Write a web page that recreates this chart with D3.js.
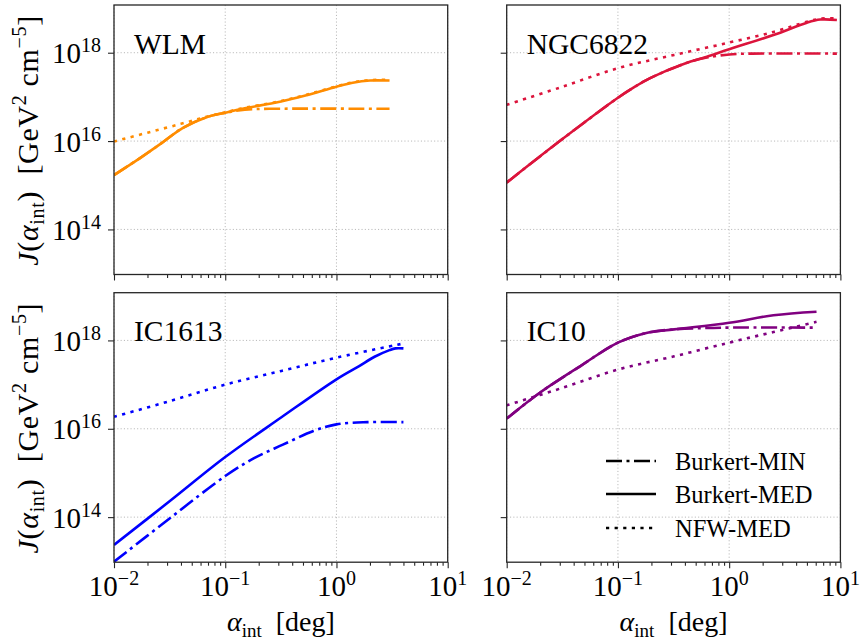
<!DOCTYPE html>
<html><head><meta charset="utf-8">
<script src="https://cdn.jsdelivr.net/npm/d3@7"></script>
<style>
body{margin:0;background:#fff}
svg{display:block}
</style>
</head><body>
<svg id="chart" width="861" height="643" font-family="'Liberation Serif', 'DejaVu Serif', serif"></svg>
<script>
// ---------- data ----------
const panelNames = ["WLM", "NGC6822", "IC1613", "IC10"];
const panelColors = ["#ff8c00", "#dc143c", "#0000ff", "#800080"];
const seriesNames = ["Burkert-MIN", "Burkert-MED", "NFW-MED"];
const xTickValues = [0.01, 0.1, 1, 10];
const xTickExponents = ["\u22122", "\u22121", "0", "1"];
const yTickValues = [1e14, 1e16, 1e18];
const yTickExponents = ["14", "16", "18"];

// WLM  (alpha in deg, log10 J in GeV^2 cm^-5)
const wlmMinAlpha = [0.01, 0.017, 0.026, 0.041, 0.068, 0.1, 0.15, 0.25, 3.0];
const wlmMinLogJ  = [15.23, 15.61, 15.93, 16.29, 16.54, 16.64, 16.71, 16.73, 16.73];
const wlmMedAlpha = [0.01, 0.017, 0.026, 0.041, 0.068, 0.1, 0.135, 0.31, 0.54, 1.0, 1.4, 2.0, 3.0];
const wlmMedLogJ  = [15.23, 15.61, 15.93, 16.29, 16.54, 16.64, 16.72, 16.89, 17.04, 17.23, 17.32, 17.37, 17.37];
const wlmNfwAlpha = [0.01, 0.02, 0.04, 0.068, 0.1, 0.135, 0.31, 0.54, 1.0, 1.4, 2.0, 3.0];
const wlmNfwLogJ  = [15.99, 16.19, 16.39, 16.55, 16.65, 16.73, 16.9, 17.05, 17.24, 17.33, 17.38, 17.39];

// NGC6822
const ngcMinAlpha = [0.01, 0.03, 0.1, 0.14, 0.18, 0.25, 0.32, 0.45, 0.63, 1.0, 1.6, 9.3];
const ngcMinLogJ  = [15.06, 16.0, 16.98, 17.22, 17.38, 17.55, 17.66, 17.8, 17.89, 17.96, 17.98, 17.98];
const ngcMedAlpha = [0.01, 0.03, 0.1, 0.14, 0.18, 0.25, 0.32, 0.45, 0.63, 1.0, 2.5, 5.0, 6.6, 9.3];
const ngcMedLogJ  = [15.06, 16.0, 16.98, 17.22, 17.38, 17.55, 17.66, 17.8, 17.91, 18.08, 18.4, 18.68, 18.75, 18.74];
const ngcNfwAlpha = [0.01, 0.03, 0.1, 0.32, 1.0, 2.5, 5.0, 6.6, 9.3];
const ngcNfwLogJ  = [16.82, 17.21, 17.65, 17.95, 18.23, 18.47, 18.7, 18.77, 18.78];

// IC1613
const ic1613MinAlpha = [0.01, 0.032, 0.1, 0.18, 0.33, 0.62, 1.0, 1.9, 4.0];
const ic1613MinLogJ  = [12.99, 13.98, 14.93, 15.33, 15.64, 15.95, 16.1, 16.15, 16.15];
const ic1613MedAlpha = [0.01, 0.032, 0.1, 0.32, 1.0, 1.6, 2.2, 3.0, 3.4, 4.0];
const ic1613MedLogJ  = [13.37, 14.37, 15.36, 16.26, 17.12, 17.42, 17.63, 17.78, 17.82, 17.82];
const ic1613NfwAlpha = [0.01, 0.032, 0.1, 0.32, 1.0, 4.0];
const ic1613NfwLogJ  = [16.27, 16.63, 17.0, 17.31, 17.61, 17.93];

// IC10
const ic10MinAlpha = [0.01, 0.02, 0.046, 0.1, 0.18, 0.32, 0.6, 1.0, 6.1];
const ic10MinLogJ  = [16.23, 16.82, 17.42, 17.95, 18.17, 18.25, 18.28, 18.29, 18.29];
const ic10MedAlpha = [0.01, 0.02, 0.046, 0.1, 0.18, 0.32, 1.0, 2.5, 6.1];
const ic10MedLogJ  = [16.23, 16.82, 17.42, 17.95, 18.17, 18.25, 18.4, 18.57, 18.65];
const ic10NfwAlpha = [0.01, 0.032, 0.1, 0.32, 1.0, 2.5, 6.1];
const ic10NfwLogJ  = [16.53, 16.93, 17.34, 17.64, 17.95, 18.19, 18.42];

// ---------- build ----------
const seriesByPanel = [
  [[wlmMinAlpha, wlmMinLogJ], [wlmMedAlpha, wlmMedLogJ], [wlmNfwAlpha, wlmNfwLogJ]],
  [[ngcMinAlpha, ngcMinLogJ], [ngcMedAlpha, ngcMedLogJ], [ngcNfwAlpha, ngcNfwLogJ]],
  [[ic1613MinAlpha, ic1613MinLogJ], [ic1613MedAlpha, ic1613MedLogJ], [ic1613NfwAlpha, ic1613NfwLogJ]],
  [[ic10MinAlpha, ic10MinLogJ], [ic10MedAlpha, ic10MedLogJ], [ic10NfwAlpha, ic10NfwLogJ]]
];
const dashes = ["16,4.5,3,4.5", null, "3.2,5.4"];
const LW = 2.6;

const svg = d3.select("#chart");
const pw = 333.7, ph = 269.5;
const lefts = [114, 506.7], tops = [5, 292.7];

const x = d3.scaleLog().domain([0.01, 10]).range([0, pw]);
const y = d3.scaleLog().domain([Math.pow(10, 12.98), Math.pow(10, 19.08)]).range([ph, 0]);

const minorX = [];
[0.01, 0.1, 1].forEach(d => { for (let k = 2; k <= 9; k++) minorX.push(d * k); });

const line = d3.line()
  .x(d => x(d[0]))
  .y(d => y(Math.pow(10, d[1])))
  .curve(d3.curveCatmullRom.alpha(0.5));

const defs = svg.append("defs");
defs.append("clipPath").attr("id", "clipP").append("rect")
  .attr("x", 0).attr("y", 0).attr("width", pw).attr("height", ph);

panelNames.forEach((name, i) => {
  const col = i % 2, row = Math.floor(i / 2);
  const g = svg.append("g").attr("transform", `translate(${lefts[col]},${tops[row]})`);

  // grid
  const grid = g.append("g");
  xTickValues.forEach(v => {
    grid.append("line").attr("x1", x(v)).attr("x2", x(v)).attr("y1", 0).attr("y2", ph)
      .attr("stroke", "#b0b0b0").attr("stroke-width", 0.9).attr("stroke-dasharray", "1.1,2.2");
  });
  yTickValues.forEach(v => {
    grid.append("line").attr("x1", 0).attr("x2", pw).attr("y1", y(v)).attr("y2", y(v))
      .attr("stroke", "#b0b0b0").attr("stroke-width", 0.9).attr("stroke-dasharray", "1.1,2.2");
  });

  // series
  const lg = g.append("g").attr("clip-path", "url(#clipP)");
  seriesByPanel[i].forEach((s, k) => {
    const pts = s[0].map((a, j) => [a, s[1][j]]);
    lg.append("path").attr("d", line(pts)).attr("fill", "none")
      .attr("stroke", panelColors[i]).attr("stroke-width", LW)
      .attr("stroke-dasharray", dashes[k]).attr("stroke-linecap", "butt")
      .attr("stroke-linejoin", "round");
  });

  // axes ticks
  const xa = g.append("g").attr("transform", `translate(0,${ph})`)
    .call(d3.axisBottom(x).tickValues(xTickValues).tickSize(6).tickFormat(""));
  const xm = g.append("g").attr("transform", `translate(0,${ph})`)
    .call(d3.axisBottom(x).tickValues(minorX).tickSize(3.5).tickFormat(""));
  const ya = g.append("g")
    .call(d3.axisLeft(y).tickValues(yTickValues).tickSize(6).tickFormat(""));
  [xa, xm, ya].forEach(a => {
    a.select(".domain").remove();
    a.selectAll("line").attr("stroke", "#262626").attr("stroke-width", 1.1);
  });

  // frame
  g.append("rect").attr("x", 0).attr("y", 0).attr("width", pw).attr("height", ph)
    .attr("fill", "none").attr("stroke", "#262626").attr("stroke-width", 1.3);

  // panel title
  g.append("text").attr("x", 20).attr("y", 48.5).attr("font-size", 29.5).text(name);

  // x tick labels
  if (row === 1) {
    xTickValues.forEach((v, j) => {
      const t = g.append("text").attr("x", x(v)).attr("y", ph + 34)
        .attr("text-anchor", "middle").attr("font-size", 29);
      t.append("tspan").text("10");
      t.append("tspan").attr("dy", -11).attr("font-size", 20).text(xTickExponents[j]);
    });
    const xl = g.append("text").attr("x", pw / 2).attr("y", ph + 68.5)
      .attr("text-anchor", "middle").attr("font-size", 28);
    xl.append("tspan").attr("font-style", "italic").text("\u03b1");
    xl.append("tspan").attr("dy", 6).attr("font-size", 19).text("int");
    xl.append("tspan").attr("dy", -6).text("\u00a0\u00a0[deg]");
  }
  // y tick labels
  if (col === 0) {
    yTickValues.forEach((v, j) => {
      const t = g.append("text").attr("x", -13).attr("y", y(v) + 10.5)
        .attr("text-anchor", "end").attr("font-size", 29);
      t.append("tspan").text("10");
      t.append("tspan").attr("dy", -11).attr("font-size", 20).text(yTickExponents[j]);
    });
    const yl = g.append("text")
      .attr("transform", `translate(${38 - lefts[0]},${ph / 2 + 1}) rotate(-90)`)
      .attr("text-anchor", "middle").attr("font-size", 30)
      .attr("textLength", 250).attr("lengthAdjust", "spacing");
    yl.append("tspan").attr("font-style", "italic").text("J");
    yl.append("tspan").text("(");
    yl.append("tspan").attr("font-style", "italic").text("\u03b1");
    yl.append("tspan").attr("dy", 6).attr("font-size", 20).text("int");
    yl.append("tspan").attr("dy", -6).text(")\u00a0\u00a0[GeV");
    yl.append("tspan").attr("dy", -12).attr("font-size", 20).text("2");
    yl.append("tspan").attr("dy", 12).text("\u00a0cm");
    yl.append("tspan").attr("dy", -12).attr("font-size", 20).text("\u22125");
    yl.append("tspan").attr("dy", 12).text("]");
  }

  // legend
  if (i === 3) {
    const legY = [461, 494, 528];
    const legBase = [469.5, 503, 536.5];
    seriesNames.forEach((sn, k) => {
      svg.append("line").attr("x1", 606).attr("x2", 656).attr("y1", legY[k]).attr("y2", legY[k])
        .attr("stroke", "#000").attr("stroke-width", LW).attr("stroke-dasharray", dashes[k]);
      svg.append("text").attr("x", 675).attr("y", legBase[k]).attr("font-size", 24.5).text(sn);
    });
  }
});
</script>
</body></html>
